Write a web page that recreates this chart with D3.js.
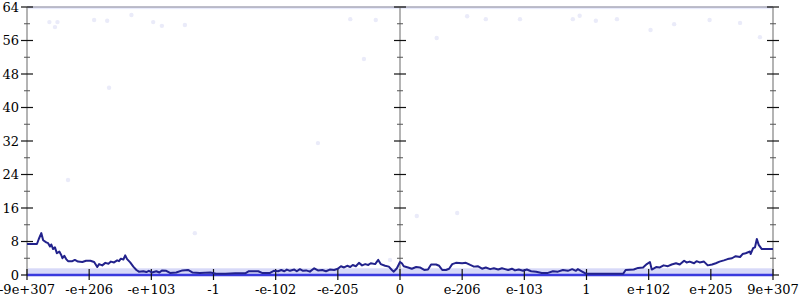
<!DOCTYPE html>
<html>
<head>
<meta charset="utf-8">
<script src="https://cdn.jsdelivr.net/npm/d3@7"></script>
<style>
  body { margin: 0; background: #fff; }
  svg text { font-family: "DejaVu Serif", "Liberation Serif", serif; font-size: 13px; fill: #000; }
</style>
</head>
<body>
<div id="chart"></div>
<script>
/* global d3 */

var w = 800,
    h = 300;

// x is the position of a double in bit order, one unit per labelled tick
var tickPos = [-6, -5, -4, -3, -2, -1, 0, 1, 2, 3, 4, 5, 6];
var tickLabels = ["-9e+307", "-e+206", "-e+103", "-1", "-e-102", "-e-205", "0",
                  "e-206", "e-103", "1", "e+102", "e+205", "9e+307"];
var yTicks = [0, 8, 16, 24, 32, 40, 48, 56, 64];
var yMinor = [4, 12, 20, 28, 36, 44, 52, 60];
var axisPos = [-6, 0, 6];

// smoothed mean line
var linePos = [-6.00, -5.84, -5.81, -5.77, -5.74, -5.69, -5.66, -5.63, -5.61, -5.58, -5.55, -5.52, -5.48, -5.45, -5.43, -5.40, -5.37, -5.34, -5.27, -5.23,
  -5.18, -5.11, -5.05, -4.98, -4.92, -4.87, -4.84, -4.79, -4.74, -4.69, -4.65, -4.60, -4.55, -4.52, -4.49, -4.45, -4.42, -4.39, -4.34, -4.29,
  -4.24, -4.20, -4.13, -4.08, -4.04, -3.99, -3.92, -3.87, -3.83, -3.76, -3.70, -3.60, -3.50, -3.41, -3.34, -3.22, -3.05, -2.96, -2.81, -2.65,
  -2.49, -2.43, -2.28, -2.22, -2.09, -2.03, -1.96, -1.91, -1.86, -1.82, -1.77, -1.70, -1.66, -1.61, -1.56, -1.51, -1.45, -1.38, -1.32, -1.25,
  -1.19, -1.13, -1.06, -1.00, -0.95, -0.90, -0.85, -0.80, -0.76, -0.71, -0.66, -0.61, -0.56, -0.51, -0.47, -0.40, -0.35, -0.31, -0.24, -0.18,
  -0.13, -0.10, -0.05, 0.00, 0.03, 0.06, 0.13, 0.19, 0.26, 0.32, 0.39, 0.45, 0.50, 0.58, 0.63, 0.68, 0.74, 0.79, 0.84, 0.90,
  1.00, 1.06, 1.13, 1.19, 1.25, 1.32, 1.38, 1.45, 1.51, 1.58, 1.64, 1.69, 1.74, 1.80, 1.85, 1.91, 1.98, 2.04, 2.11, 2.19,
  2.28, 2.38, 2.46, 2.54, 2.62, 2.70, 2.77, 2.83, 2.86, 2.93, 2.99, 3.14, 3.30, 3.46, 3.59, 3.63, 3.76, 3.83, 3.91, 3.97,
  4.02, 4.05, 4.12, 4.18, 4.24, 4.31, 4.37, 4.44, 4.50, 4.57, 4.61, 4.66, 4.73, 4.77, 4.82, 4.89, 4.95, 5.02, 5.08, 5.14,
  5.21, 5.27, 5.34, 5.40, 5.47, 5.51, 5.56, 5.63, 5.64, 5.68, 5.71, 5.74, 5.77, 5.82, 6.00];
var lineVal = [7.4, 7.4, 8.6, 10.0, 8.3, 7.8, 7.6, 6.8, 7.3, 6.2, 6.6, 5.2, 5.6, 4.8, 4.0, 4.6, 3.8, 3.3, 3.3, 3.6,
  3.2, 3.1, 3.4, 3.4, 3.1, 1.9, 2.6, 2.3, 2.9, 2.7, 3.2, 3.0, 3.5, 3.3, 3.9, 3.7, 4.7, 3.8, 3.0, 2.0,
  1.2, 0.8, 0.9, 0.7, 1.0, 0.6, 0.9, 0.6, 1.1, 1.0, 0.5, 0.6, 1.1, 1.2, 0.6, 0.5, 0.6, 0.3, 0.3, 0.4,
  0.4, 0.9, 0.9, 0.5, 0.5, 1.0, 0.9, 1.2, 0.9, 1.3, 1.0, 1.3, 0.9, 1.4, 1.0, 1.1, 0.8, 1.6, 1.1, 1.2,
  0.9, 1.3, 1.2, 1.5, 2.1, 1.8, 2.2, 1.9, 2.4, 2.1, 2.9, 2.3, 2.6, 2.4, 2.8, 2.6, 3.6, 2.6, 2.2, 2.0,
  1.2, 0.8, 1.6, 3.1, 2.8, 2.1, 1.8, 1.5, 1.9, 1.8, 1.2, 1.3, 2.5, 2.5, 2.2, 1.2, 1.2, 1.5, 2.6, 2.9,
  2.8, 2.9, 2.4, 2.0, 2.1, 1.5, 1.8, 1.4, 1.6, 1.3, 1.6, 1.4, 1.2, 1.5, 1.1, 1.3, 1.0, 1.3, 0.9, 0.8,
  0.5, 0.5, 0.9, 0.8, 1.2, 1.0, 1.4, 1.0, 1.4, 0.8, 0.3, 0.3, 0.3, 0.3, 0.3, 1.2, 1.3, 1.7, 1.8, 2.6,
  3.1, 1.3, 1.9, 1.8, 2.3, 2.1, 2.5, 2.8, 2.5, 3.4, 3.0, 3.2, 2.8, 3.3, 3.0, 3.2, 2.3, 2.5, 2.8, 3.2,
  3.5, 3.8, 4.0, 4.5, 4.3, 5.0, 5.2, 5.6, 5.0, 6.4, 6.6, 8.6, 7.2, 6.2, 6.2];

// sparse samples away from the dense rows
var dotPos = [-5.64, -5.51, -5.55, -4.92, -4.71, -4.32, -3.97, -3.83, -3.46, -4.68, -5.34, -3.30, -1.32, -0.58,
  -0.39, -0.80, 0.59, 0.27, 0.92, -0.16, 1.08, 1.38, 1.93, 2.78, 2.89, 3.15, 3.49, 4.98, 5.47, 5.79, 4.03, 4.41];
var dotVal = [60.4, 60.4, 59.2, 60.9, 60.7, 62.1, 60.4, 59.5, 59.7, 44.7, 22.7, 10.0, 31.5, 51.6,
  60.9, 61.1, 56.6, 14.1, 14.8, 3.6, 61.8, 61.1, 61.1, 61.1, 61.9, 60.7, 61.1, 60.9, 60.2, 56.8, 58.5, 59.9];

// dense rows of samples, drawn as bands: [from, to, low, high]
var bandFrom = [-6.0, -6.0];
var bandTo = [6.0, 6.0];
var bandLow = [0.2, 63.5];
var bandHigh = [1.6, 64];

var x = d3.scaleLinear().domain([-6, 6]).range([27, 773]);
var y = d3.scaleLinear().domain([0, 64]).range([275, 7]);

var svg = d3.select("#chart").append("svg")
    .attr("width", w)
    .attr("height", h);

// bands of overlapping points
svg.selectAll(".band")
    .data(bandFrom)
    .enter().append("rect")
    .attr("class", "band")
    .attr("x", function(d, i) { return x(d); })
    .attr("width", function(d, i) { return x(bandTo[i]) - x(d); })
    .attr("y", function(d, i) { return y(bandHigh[i]); })
    .attr("height", function(d, i) { return y(bandLow[i]) - y(bandHigh[i]); })
    .style("fill", "#cdd0f6")
    .style("opacity", function(d, i) { return i == 0 ? 0.8 : 0.45; });

svg.selectAll(".dot")
    .data(dotPos)
    .enter().append("circle")
    .attr("class", "dot")
    .attr("cx", function(d) { return x(d); })
    .attr("cy", function(d, i) { return y(dotVal[i]); })
    .attr("r", 2.2)
    .style("fill", "#eaebf9");

// top edge
svg.append("line")
    .attr("x1", x(-6)).attr("x2", x(6))
    .attr("y1", y(64)).attr("y2", y(64))
    .style("stroke", "#a8a8b8")
    .style("stroke-width", 1.5);

// vertical axes
svg.selectAll(".vaxis")
    .data(axisPos)
    .enter().append("line")
    .attr("class", "vaxis")
    .attr("x1", function(d) { return x(d); })
    .attr("x2", function(d) { return x(d); })
    .attr("y1", y(64)).attr("y2", y(0))
    .style("stroke", "#b4b4b4")
    .style("stroke-width", 2);

axisPos.forEach(function(p) {
    var g = svg.append("g");
    g.selectAll(".major")
        .data(yTicks)
        .enter().append("line")
        .attr("x1", x(p) - 6).attr("x2", x(p) + 6)
        .attr("y1", function(d) { return y(d); })
        .attr("y2", function(d) { return y(d); })
        .style("stroke", "#111")
        .style("stroke-width", 1.2);
    g.selectAll(".minor")
        .data(yMinor)
        .enter().append("line")
        .attr("x1", x(p) - 3).attr("x2", x(p) + 3)
        .attr("y1", function(d) { return y(d); })
        .attr("y2", function(d) { return y(d); })
        .style("stroke", "#555")
        .style("stroke-width", 1);
});

svg.selectAll(".ylabel")
    .data(yTicks)
    .enter().append("text")
    .attr("class", "ylabel")
    .attr("x", x(-6) - 8)
    .attr("y", function(d) { return y(d) + 4.5; })
    .attr("text-anchor", "end")
    .text(function(d) { return d; });

// zero row
svg.append("line")
    .attr("x1", x(-6)).attr("x2", x(6))
    .attr("y1", y(0)).attr("y2", y(0))
    .style("stroke", "#3a3ade")
    .style("stroke-width", 2.5);

svg.selectAll(".xtick")
    .data(tickPos)
    .enter().append("line")
    .attr("class", "xtick")
    .attr("x1", function(d) { return x(d); })
    .attr("x2", function(d) { return x(d); })
    .attr("y1", y(0) - 6).attr("y2", y(0) + 5)
    .style("stroke", "#111")
    .style("stroke-width", 1.2);

svg.selectAll(".xlabel")
    .data(tickPos)
    .enter().append("text")
    .attr("class", "xlabel")
    .attr("x", function(d) { return x(d); })
    .attr("y", 294)
    .attr("text-anchor", "middle")
    .text(function(d, i) { return tickLabels[i]; });

var line = d3.line()
    .x(function(d) { return x(d); })
    .y(function(d, i) { return y(lineVal[i]); });

svg.append("path")
    .datum(linePos)
    .attr("d", line)
    .style("fill", "none")
    .style("stroke", "#22228c")
    .style("stroke-width", 2)
    .style("stroke-linejoin", "round");
</script>
</body>
</html>
